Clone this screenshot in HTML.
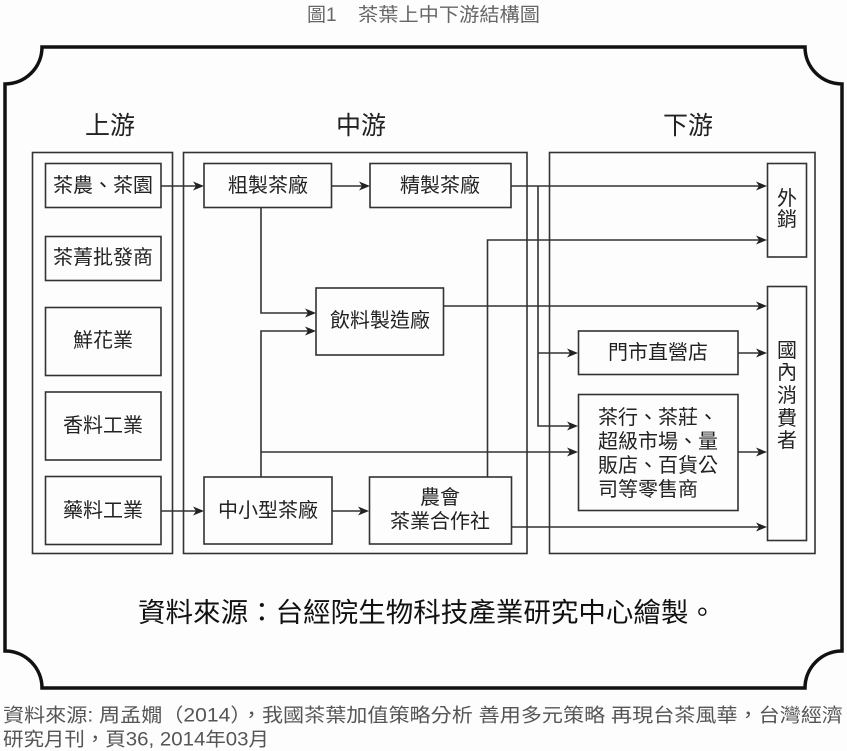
<!DOCTYPE html>
<html>
<head>
<meta charset="utf-8">
<style>
  html, body { margin: 0; padding: 0; background: #fdfdfd; }
  body { width: 847px; height: 751px; overflow: hidden; }
  svg { display: block; }
  text { font-family: "Liberation Sans", "Noto Sans CJK TC", "Noto Sans CJK SC", sans-serif; }
</style>
</head>
<body>
<svg width="847" height="751" viewBox="0 0 847 751" xmlns="http://www.w3.org/2000/svg">
  <rect x="0" y="0" width="847" height="751" fill="#fdfdfd"/>

  <!-- Title -->
  <text x="307" y="21" font-size="19" fill="#666">圖1</text>
  <text x="358" y="21" font-size="19" fill="#666" textLength="182" lengthAdjust="spacingAndGlyphs">茶葉上中下游結構圖</text>

  <!-- Outer frame with concave corners -->
  <path d="M42,47 L805,47 A37,37 0 0 0 842,84 L842,651 A37,37 0 0 0 805,688 L42,688 A37,37 0 0 0 5,651 L5,84 A37,37 0 0 0 42,47 Z"
        fill="none" stroke="#111" stroke-width="3.5"/>

  <!-- Section headings -->
  <text x="110" y="126" font-size="25" fill="#222" text-anchor="middle" dominant-baseline="central">上游</text>
  <text x="361" y="126" font-size="25" fill="#222" text-anchor="middle" dominant-baseline="central">中游</text>
  <text x="688" y="126" font-size="25" fill="#222" text-anchor="middle" dominant-baseline="central">下游</text>

  <g fill="none" stroke="#333" stroke-width="1.6">
    <!-- Column containers -->
    <rect x="32.5" y="152.5" width="140" height="401"/>
    <rect x="183.5" y="152.5" width="343.5" height="401"/>
    <rect x="549.5" y="152.5" width="265.5" height="401"/>

    <!-- Upstream boxes -->
    <rect x="45.5" y="163.5" width="115.5" height="44"/>
    <rect x="45.5" y="236.5" width="115.5" height="44"/>
    <rect x="45.5" y="307.5" width="115.5" height="68"/>
    <rect x="45.5" y="392" width="115.5" height="68"/>
    <rect x="45.5" y="476.5" width="115.5" height="68"/>

    <!-- Midstream boxes -->
    <rect x="204" y="163.5" width="127.5" height="44"/>
    <rect x="370" y="163.5" width="141" height="44"/>
    <rect x="316" y="288" width="127.5" height="67"/>
    <rect x="204" y="477" width="128" height="67"/>
    <rect x="369.5" y="477" width="142" height="67"/>

    <!-- Downstream boxes -->
    <rect x="767.5" y="163.5" width="39" height="93.5"/>
    <rect x="767.5" y="286.5" width="39" height="254"/>
    <rect x="578.5" y="331" width="159.5" height="43.5"/>
    <rect x="578.5" y="394.5" width="159.5" height="116"/>

    <!-- Connectors -->
    <path d="M161,186 H200"/>
    <path d="M331.5,186 H366"/>
    <path d="M511,186 H763"/>
    <path d="M538,186 V426 H574"/>
    <path d="M538,353 H574"/>
    <path d="M261,207.5 V313 H312"/>
    <path d="M261,477 V331 H312"/>
    <path d="M261,452 H574"/>
    <path d="M487.5,477 V240 H763"/>
    <path d="M443.5,306 H763"/>
    <path d="M738,353 H763"/>
    <path d="M738,452 H763"/>
    <path d="M511.5,527 H763"/>
    <path d="M161,511 H200"/>
    <path d="M332,511 H365"/>
  </g>

  <!-- Arrowheads -->
  <g fill="#222">
    <path d="M204,186 l-11,-4.5 l3,4.5 l-3,4.5 z"/>
    <path d="M370,186 l-11,-4.5 l3,4.5 l-3,4.5 z"/>
    <path d="M767,186 l-11,-4.5 l3,4.5 l-3,4.5 z"/>
    <path d="M578,353 l-11,-4.5 l3,4.5 l-3,4.5 z"/>
    <path d="M578,426 l-11,-4.5 l3,4.5 l-3,4.5 z"/>
    <path d="M316,313 l-11,-4.5 l3,4.5 l-3,4.5 z"/>
    <path d="M316,331 l-11,-4.5 l3,4.5 l-3,4.5 z"/>
    <path d="M578,452 l-11,-4.5 l3,4.5 l-3,4.5 z"/>
    <path d="M767,240 l-11,-4.5 l3,4.5 l-3,4.5 z"/>
    <path d="M767,306 l-11,-4.5 l3,4.5 l-3,4.5 z"/>
    <path d="M767,353 l-11,-4.5 l3,4.5 l-3,4.5 z"/>
    <path d="M767,452 l-11,-4.5 l3,4.5 l-3,4.5 z"/>
    <path d="M767,527 l-11,-4.5 l3,4.5 l-3,4.5 z"/>
    <path d="M204,511 l-11,-4.5 l3,4.5 l-3,4.5 z"/>
    <path d="M369,511 l-11,-4.5 l3,4.5 l-3,4.5 z"/>
  </g>

  <!-- Box labels -->
  <g font-size="20" fill="#222" text-anchor="middle" dominant-baseline="central">
    <text x="103" y="186">茶農、茶園</text>
    <text x="103" y="258">茶菁批發商</text>
    <text x="103" y="341">鮮花業</text>
    <text x="103" y="426">香料工業</text>
    <text x="103" y="511">藥料工業</text>

    <text x="268" y="186">粗製茶廠</text>
    <text x="440" y="186">精製茶廠</text>
    <text x="380" y="321">飲料製造廠</text>
    <text x="268" y="511">中小型茶廠</text>
    <text x="440" y="498">農會</text>
    <text x="440" y="522">茶業合作社</text>

    <text x="658" y="353">門市直營店</text>

    <text x="787" y="199">外</text>
    <text x="787" y="220">銷</text>

    <text x="787" y="351">國</text>
    <text x="787" y="373">內</text>
    <text x="787" y="396">消</text>
    <text x="787" y="419">費</text>
    <text x="787" y="441">者</text>
  </g>
  <g font-size="20" fill="#222" dominant-baseline="central">
    <text x="598" y="418">茶行、茶莊、</text>
    <text x="598" y="442">超級市場、量</text>
    <text x="598" y="466">販店、百貨公</text>
    <text x="598" y="490">司等零售商</text>
  </g>

  <!-- Caption inside frame -->
  <text x="138" y="613" font-size="27" fill="#111" dominant-baseline="central" textLength="578" lengthAdjust="spacingAndGlyphs">資料來源：台經院生物科技產業研究中心繪製。</text>

  <!-- Footer -->
  <text x="3" y="716" font-size="19" fill="#555" dominant-baseline="central" textLength="840" lengthAdjust="spacingAndGlyphs">資料來源: 周孟嫺（2014），我國茶葉加值策略分析 善用多元策略 再現台茶風華，台灣經濟</text>
  <text x="3" y="740" font-size="19" fill="#555" dominant-baseline="central" textLength="266" lengthAdjust="spacingAndGlyphs">研究月刊，頁36, 2014年03月</text>
</svg>
</body>
</html>
